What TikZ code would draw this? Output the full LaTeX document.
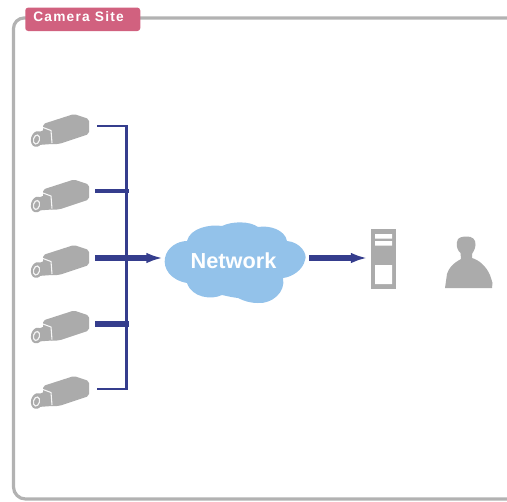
\documentclass[tikz,border=0pt]{standalone}
\usepackage{fontspec}
\setmainfont{Liberation Sans}
\newfontfamily\tagfont[LetterSpace=9]{Liberation Sans}
\usetikzlibrary{arrows.meta}
\definecolor{framegrey}{HTML}{B2B2B2}
\definecolor{devgrey}{HTML}{ABABAB}
\definecolor{navy}{HTML}{353D8D}
\definecolor{tagred}{HTML}{D1617F}
\definecolor{cloudblue}{HTML}{93C2EA}
\tikzset{
  frameline/.style={draw=framegrey,line width=2.4pt},
  device/.style={fill=devgrey,draw=none},
  thinbus/.style={draw=navy,line width=1.9pt},
  midbus/.style={draw=navy,line width=3pt},
  thickbus/.style={draw=navy,line width=4.2pt},
  flow/.style={draw=navy,line width=4.2pt,-{Latex[length=12.5pt,width=8pt]}},
  camera/.pic={
    % body
    \fill[devgrey,rounded corners=1.5pt] (43,8) -- (74,-2) -- (89,3) -- (89,18) -- (59,28) -- (50,28) -- (43,20) -- cycle;
    % neck
    \fill[devgrey] (34,18) -- (44,14) -- (52,16) -- (52,28) -- (38,29) -- cycle;
    % lens
    \fill[devgrey,rotate around={-15:(37,23)}] (37,23) ellipse[x radius=6,y radius=8];
    \draw[white!85!devgrey,line width=0.9pt,rotate around={-15:(36.5,23.5)}] (36.5,23.5) ellipse[x radius=3,y radius=4.6];
    % seam
    \draw[white!90!devgrey,line width=0.8pt,line join=round] (43,11.5) -- (51,14.5) -- (52,27);
  }
}
\begin{document}
\begin{tikzpicture}[x=0.75pt,y=-0.75pt]
\useasboundingbox (0,0) rectangle (507,501);
% frame
\draw[frameline] (507,18) -- (24,18) arc[start angle=90,end angle=180,x radius=10.5,y radius=-10.5] -- (13.5,487) arc[start angle=180,end angle=270,x radius=12,y radius=-12] -- (507,499);
% tag
\node[fill=tagred,rounded corners=2.2pt,minimum width=86.25pt,minimum height=17.6pt,inner sep=0pt,anchor=north west] (tag) at (25,7.3) {};
\node[text=white,font=\tagfont\bfseries\fontsize{10.3}{11}\selectfont,anchor=west,inner sep=0pt] (taglabel) at (33,16.8) {Camera Site};
% cameras
\foreach \n/\y in {1/116,2/181.5,3/247,4/312.5,5/378}
  \path (0,\y) pic {camera};
% bus anchors
\coordinate (bustop) at (126.5,126);
\coordinate (busbot) at (126.5,389);
\coordinate (c1) at (97,126);
\coordinate (c2) at (95,191);
\coordinate (c2e) at (129,191);
\coordinate (c3) at (95,258);
\coordinate (c4) at (95,324);
\coordinate (c4e) at (129,324);
\coordinate (c5) at (97,389);
\coordinate (netin) at (163,258);
\coordinate (netout) at (309,258);
\coordinate (srvin) at (367.5,258);
\draw[thinbus,line join=miter] (c1) -- (bustop) -- (busbot) -- (c5);
\draw[midbus] (c2) -- (c2e);
\draw[thickbus] (c4) -- (c4e);
\draw[flow] (c3) -- (netin);
% cloud
\fill[cloudblue] (187,241) .. controls (190,228) and (210,224) .. (222,226)
  .. controls (232,221) and (250,221) .. (258,227)
  .. controls (270,225) and (285,230) .. (287,241)
  .. controls (300,242) and (308,254) .. (305,260)
  .. controls (303,270) and (292,277) .. (283,278)
  .. controls (286,292) and (272,304) .. (258,303)
  .. controls (250,303) and (244,301) .. (238,298)
  .. controls (230,297) and (227,296) .. (222,295)
  .. controls (212,300) and (192,298) .. (187,283)
  .. controls (170,280) and (163,268) .. (165,258)
  .. controls (167,247) and (178,241) .. (187,241) -- cycle;
\node[text=white,font=\bfseries\fontsize{16.3}{18}\selectfont,inner sep=0pt] (net) at (233.5,261) {Network};
\draw[flow] (netout) -- (srvin);
% server
\fill[device] (371,229) rectangle (396,289);
\fill[white] (375,234) rectangle (392,238.5) (375,241) rectangle (392,245.5) (375,265) rectangle (392,284);
% person
\fill[device] (445,288) -- (447,274) .. controls (449,268) and (452,264) .. (461,259) -- (460.5,253)
  .. controls (458,251) and (456,247) .. (457,242)
  .. controls (457,237) and (463,236.5) .. (467,236.5)
  .. controls (472,236.5) and (476,239) .. (475.5,245)
  .. controls (475,250) and (473,252) .. (472,254) -- (472,258)
  .. controls (479,260) and (486,266) .. (490,275)
  .. controls (491,278) and (492,281) .. (492.5,283) -- (492,288) -- cycle;
\end{tikzpicture}
\end{document}
